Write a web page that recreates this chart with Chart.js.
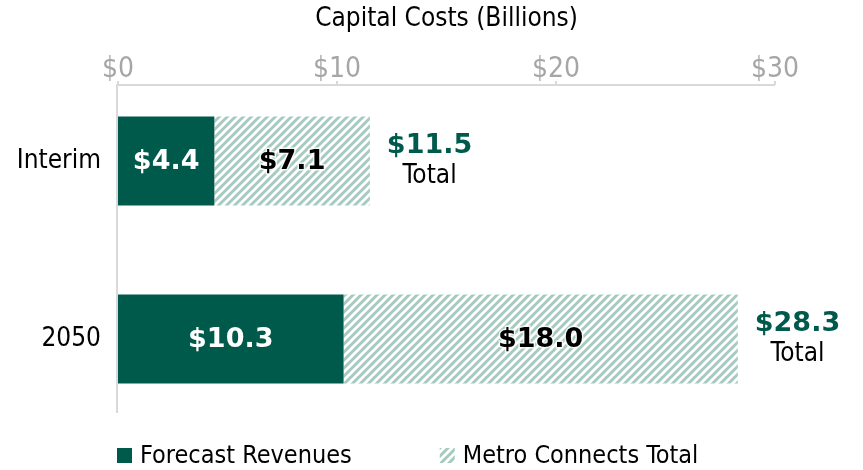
<!DOCTYPE html>
<html>
<head>
<meta charset="utf-8">
<script src="https://cdn.jsdelivr.net/npm/chart.js@4.4.1/dist/chart.umd.min.js"></script>
<style>
  html, body { margin: 0; padding: 0; background: #fff; }
  #wrap { width: 863px; height: 470px; }
</style>
</head>
<body>
<div id="wrap"><canvas id="chart" width="863" height="470"></canvas></div>
<script>
// values
const categories = ['Interim', '2050'];
const forecastRevenues = [4.4, 10.3];
const metroConnects = [7.1, 18.0];
const totals = [11.5, 28.3];
const xTicks = [0, 10, 20, 30];
const seriesNames = ['Forecast Revenues', 'Metro Connects Total'];

const darkGreen = '#005a4b';
const hatchColor = '#a5cac0';
const axisGray = '#d9d9d9';
const fontRegular = "'DejaVu Sans Condensed', 'DejaVu Sans', sans-serif";
const fontBold = "'DejaVu Sans', Verdana, sans-serif";

// diagonal hatch for the Metro Connects series
function makeHatch() {
    const size = 8;
    const c = document.createElement('canvas');
    c.width = size;
    c.height = size;
    const g = c.getContext('2d');
    g.strokeStyle = hatchColor;
    g.lineWidth = 3;
    g.beginPath();
    for (let k = -1; k <= 1; k++) {
        g.moveTo(k * size - 1, size + 1);
        g.lineTo(k * size + size + 1, -1);
    }
    g.stroke();
    return g.createPattern(c, 'repeat');
}
const hatch = makeHatch();

// axis lines drawn a bit inside the plot box, like the original
const axisLines = {
    id: 'axisLines',
    beforeDatasetsDraw(chart) {
        const { ctx, chartArea, scales } = chart;
        const yTop = chartArea.top + 13;
        const yBottom = chartArea.bottom - 15;
        ctx.save();
        ctx.strokeStyle = axisGray;
        ctx.lineWidth = 2;
        ctx.beginPath();
        ctx.moveTo(chartArea.left - 1, yTop);
        ctx.lineTo(scales.x.getPixelForValue(xTicks[xTicks.length - 1]), yTop);
        ctx.moveTo(chartArea.left - 1, yTop - 1);
        ctx.lineTo(chartArea.left - 1, yBottom);
        xTicks.forEach(t => {
            const px = scales.x.getPixelForValue(t);
            ctx.moveTo(px, yTop);
            ctx.lineTo(px, yTop - 4);
        });
        ctx.stroke();
        ctx.restore();
    }
};

// value labels inside the bars and the totals to the right
const barLabels = {
    id: 'barLabels',
    afterDatasetsDraw(chart) {
        const { ctx, scales } = chart;
        ctx.save();
        ctx.textBaseline = 'middle';
        ctx.textAlign = 'center';
        ctx.font = 'bold 27px ' + fontBold;
        chart.data.datasets.forEach((ds, di) => {
            const meta = chart.getDatasetMeta(di);
            meta.data.forEach((bar, i) => {
                const text = '$' + ds.data[i].toFixed(1);
                const cx = (bar.x + bar.base) / 2;
                if (di === 0) {
                    ctx.fillStyle = '#fff';
                } else {
                    ctx.lineWidth = 3;
                    ctx.strokeStyle = 'rgba(255,255,255,0.8)';
                    ctx.strokeText(text, cx, bar.y + 1);
                    ctx.fillStyle = '#000';
                }
                ctx.fillText(text, cx, bar.y + 1);
            });
        });

        const lastMeta = chart.getDatasetMeta(1);
        totals.forEach((t, i) => {
            const bar = lastMeta.data[i];
            const x0 = scales.x.getPixelForValue(forecastRevenues[i] + metroConnects[i]) + 17;
            const text = '$' + t.toFixed(1);
            ctx.font = 'bold 27px ' + fontBold;
            const w = ctx.measureText(text).width;
            ctx.fillStyle = darkGreen;
            ctx.fillText(text, x0 + w / 2, bar.y - 15);
            ctx.font = '26px ' + fontRegular;
            ctx.fillStyle = '#000';
            ctx.fillText('Total', x0 + w / 2, bar.y + 15);
        });
        ctx.restore();
    }
};

// legend under the plot, taken from the datasets
const bottomLegend = {
    id: 'bottomLegend',
    afterDraw(chart) {
        const { ctx, chartArea } = chart;
        const y = chartArea.bottom + 28;
        let x = chartArea.left - 1;
        ctx.save();
        ctx.font = '25px ' + fontRegular;
        ctx.textBaseline = 'middle';
        ctx.textAlign = 'left';
        chart.data.datasets.forEach(ds => {
            ctx.fillStyle = ds.backgroundColor;
            ctx.fillRect(x, y - 8, 15, 15);
            ctx.fillStyle = '#000';
            ctx.fillText(ds.label, x + 23, y);
            x += 23 + ctx.measureText(ds.label).width + 88;
        });
        ctx.restore();
    }
};

new Chart(document.getElementById('chart'), {
    type: 'bar',
    data: {
        labels: categories,
        datasets: [{
            label: seriesNames[0],
            data: forecastRevenues,
            backgroundColor: darkGreen,
            categoryPercentage: 0.5,
            barPercentage: 1.0
        }, {
            label: seriesNames[1],
            data: metroConnects,
            backgroundColor: hatch,
            categoryPercentage: 0.5,
            barPercentage: 1.0
        }]
    },
    options: {
        indexAxis: 'y',
        responsive: false,
        animation: false,
        layout: { padding: { left: 0, right: 88, top: 0, bottom: 42 } },
        scales: {
            x: {
                position: 'top',
                stacked: true,
                min: 0,
                max: 30,
                afterBuildTicks: scale => { scale.ticks = xTicks.map(v => ({ value: v })); },
                afterFit: scale => { scale.height = 72; },
                grid: { display: false, drawTicks: false },
                border: { display: false },
                ticks: {
                    mirror: true,
                    padding: -19,
                    color: '#a6a6a6',
                    font: { family: fontRegular, size: 28 },
                    callback: v => '$' + v
                },
                title: {
                    display: true,
                    text: 'Capital Costs (Billions)',
                    color: '#000',
                    font: { family: fontRegular, size: 26 },
                    padding: { top: 4, bottom: 0 }
                }
            },
            y: {
                stacked: true,
                afterFit: scale => { scale.width = 118; },
                grid: { display: false, drawTicks: false },
                border: { display: false },
                ticks: {
                    padding: 17,
                    color: '#000',
                    font: { family: fontRegular, size: 26 }
                }
            }
        },
        plugins: {
            legend: { display: false },
            tooltip: { enabled: false }
        }
    },
    plugins: [axisLines, barLabels, bottomLegend]
});
</script>
</body>
</html>
